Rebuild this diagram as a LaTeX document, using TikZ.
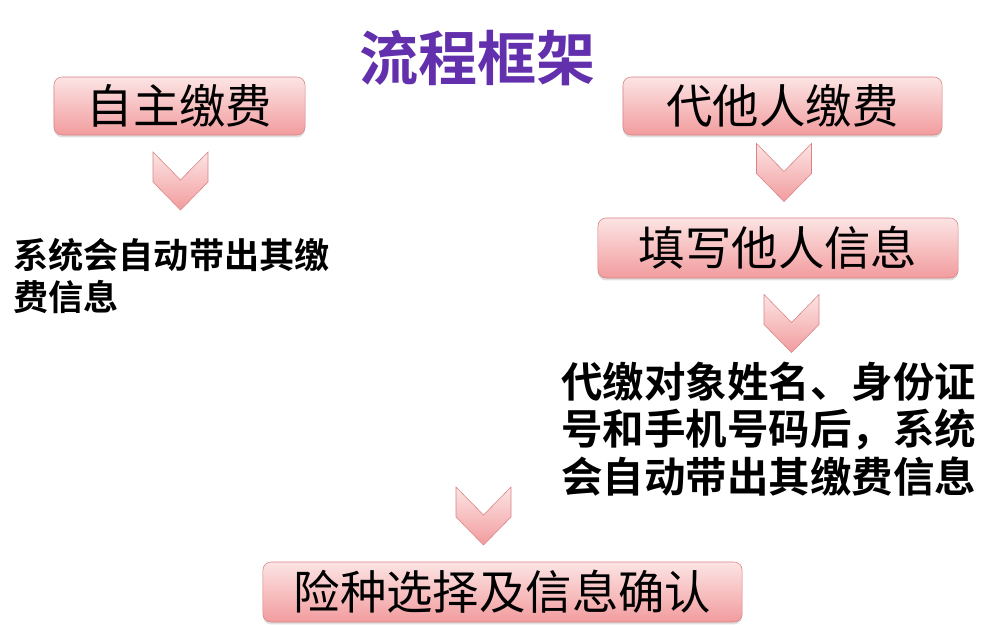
\documentclass[tikz,border=0pt]{standalone}
\usepackage{fontspec}
\setmainfont{Noto Sans CJK SC}
\newfontfamily\cjkbold{Noto Sans CJK SC Bold}
\usetikzlibrary{shadows}

\definecolor{pinktop}{HTML}{FCE4E4}
\definecolor{pinkbot}{HTML}{F29C9E}
\definecolor{pinkline}{HTML}{D98385}
\definecolor{titlepurple}{HTML}{6330AD}

\begin{document}
\begin{tikzpicture}[
    x=0.025cm, y=-0.025cm,
    stepbox/.style={
        draw=pinkline,
        rounded corners=0.2cm,
        top color=pinktop,
        bottom color=pinkbot,
        minimum height=1.45cm,
        inner sep=0pt,
        font=\fontsize{33}{36}\selectfont,
        drop shadow={shadow xshift=0pt, shadow yshift=-0.06cm, opacity=0.25}
    },
    chev/.style={
        draw=pinkline,
        top color=pinktop,
        bottom color=pinkbot
    },
    note/.style={
        align=left,
        inner sep=0pt,
        anchor=west,
        font=\cjkbold
    },
    chevron/.pic={
        \path[chev] (-27.5,-29) -- (0,-1) -- (27.5,-29) -- (27.5,1)
            -- (0,29) -- (-27.5,1) -- cycle;
    }
]
\useasboundingbox (0,0) rectangle (1003,624);

% Title
\node[font=\cjkbold\fontsize{42}{46}\selectfont, text=titlepurple] (title) at (477.5,58) {流程框架};

% Left column
\node[stepbox, minimum width=6.275cm] (self) at (179.5,106) {自主缴费};
\pic at (180.5,181) {chevron};
\node[note, font=\cjkbold\fontsize{25}{30}\selectfont] (selfnote) at (13,276) {系统会自动带出其缴\\费信息};

% Right column
\node[stepbox, minimum width=7.975cm] (other) at (782.5,106) {代他人缴费};
\pic at (784,172.5) {chevron};
\node[stepbox, minimum width=9cm, minimum height=1.5cm] (fill) at (778,248) {填写他人信息};
\pic at (791.5,323.5) {chevron};
\node[note, font=\cjkbold\fontsize{29.5}{34}\selectfont] (othernote) at (561,429) {代缴对象姓名、身份证\\号和手机号码后，系统\\会自动带出其缴费信息};

% Bottom
\pic at (483.5,516) {chevron};
\node[stepbox, minimum width=11.975cm, minimum height=1.5cm] (confirm) at (502.5,592) {险种选择及信息确认};

\end{tikzpicture}
\end{document}
